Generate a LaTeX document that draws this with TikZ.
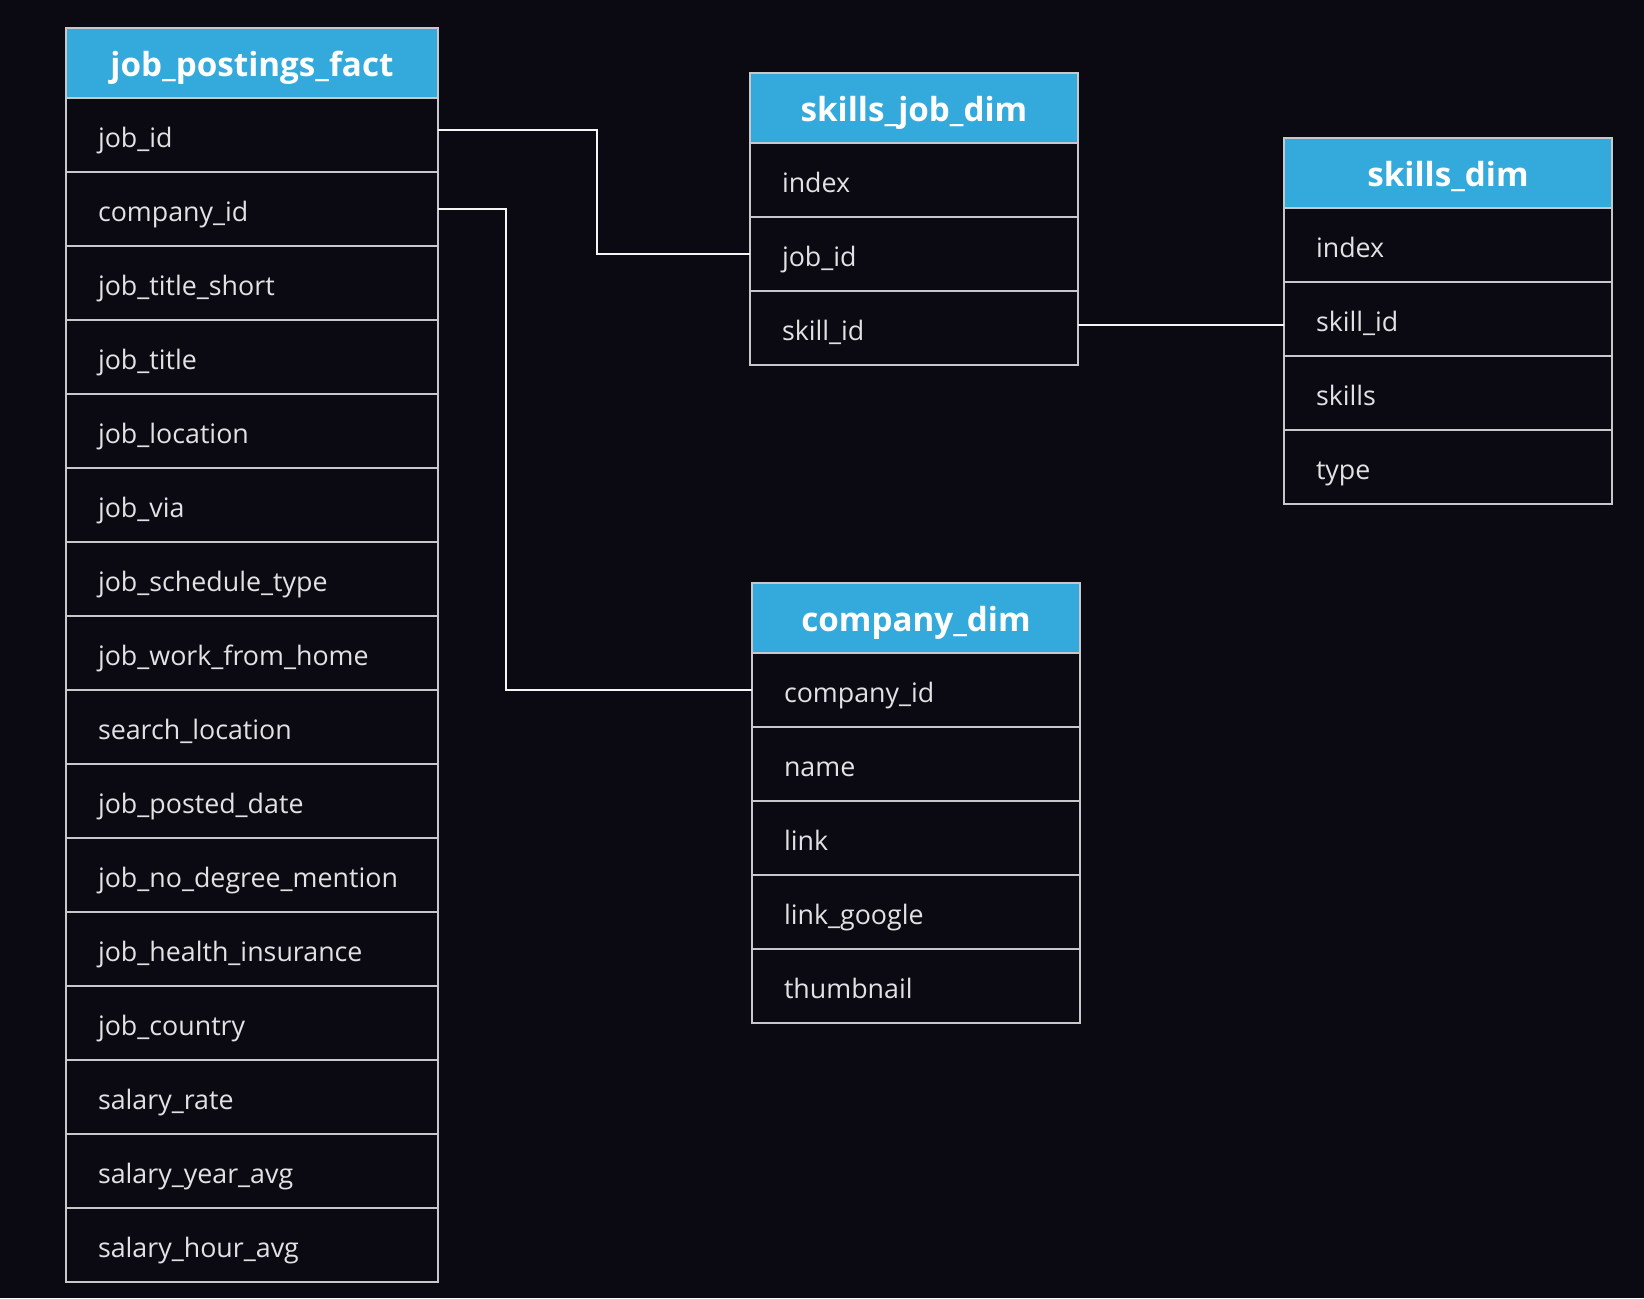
\documentclass[tikz,border=0pt]{standalone}
\usepackage{fontspec}
\setmainfont{Open Sans}
\usetikzlibrary{positioning}

\definecolor{bgdark}{HTML}{0B0A12}
\definecolor{hdblue}{HTML}{33A9DC}
\definecolor{rulegray}{HTML}{C8C8CC}
\definecolor{fieldtxt}{HTML}{E2E2E4}

\tikzset{
	header/.style={draw=rulegray, line width=1pt, fill=hdblue, text=white,
		font=\bfseries\fontsize{16.6}{19}\selectfont, minimum height=35pt,
		text height=13pt, text depth=0pt,
		inner sep=0pt, outer sep=0pt, align=center, anchor=north west},
	field/.style={draw=rulegray, line width=1pt, fill=bgdark, text=fieldtxt,
		font=\fontsize{13.4}{16}\selectfont, minimum height=37pt,
		text height=12pt, text depth=0pt, inner xsep=16pt, inner ysep=0pt,
		outer sep=0pt, align=left},
	link/.style={draw=white!92!gray, line width=1.2pt}
}

\begin{document}
\begin{tikzpicture}[x=0.5pt, y=-0.5pt]
		\fill[bgdark] (0,0) rectangle (1644,1298);
		\useasboundingbox (0,0) rectangle (1644,1298);

		% fact table
		\node[header, text width=186pt] (fact-0) at (66,28) {job\_postings\_fact};
		\foreach \field [count=\i, remember=\i as \j (initially 0)] in
			{job\_id, company\_id, job\_title\_short, job\_title, job\_location, job\_via,
			 job\_schedule\_type, job\_work\_from\_home, search\_location, job\_posted\_date,
			 job\_no\_degree\_mention, job\_health\_insurance, job\_country, salary\_rate,
			 salary\_year\_avg, salary\_hour\_avg}
			\node[field, text width=154pt, below=0pt of fact-\j] (fact-\i) {\field};

		% dimension tables
		\node[header, text width=164pt] (sj-0) at (750,73) {skills\_job\_dim};
		\foreach \field [count=\i, remember=\i as \j (initially 0)] in {index, job\_id, skill\_id}
			\node[field, text width=132pt, below=0pt of sj-\j] (sj-\i) {\field};

		\node[header, text width=164pt] (sd-0) at (1284,138) {skills\_dim};
		\foreach \field [count=\i, remember=\i as \j (initially 0)] in {index, skill\_id, skills, type}
			\node[field, text width=132pt, below=0pt of sd-\j] (sd-\i) {\field};

		\node[header, text width=164pt] (cd-0) at (752,583) {company\_dim};
		\foreach \field [count=\i, remember=\i as \j (initially 0)] in {company\_id, name, link, link\_google, thumbnail}
			\node[field, text width=132pt, below=0pt of cd-\j] (cd-\i) {\field};

		% links
		\coordinate (bend1) at (597,0);
		\coordinate (bend2) at (506,0);
		\draw[link] ([yshift=2.5pt]fact-1.east) -- ([yshift=2.5pt]fact-1.east -| bend1) |- (sj-2.west);
		\draw[link] (fact-2.east) -- (fact-2.east -| bend2) |- (cd-1.west);
		\draw[link] ([yshift=1.5pt]sj-3.east) -- ([yshift=1.5pt]sj-3.east -| sd-2.west);
\end{tikzpicture}
\end{document}
